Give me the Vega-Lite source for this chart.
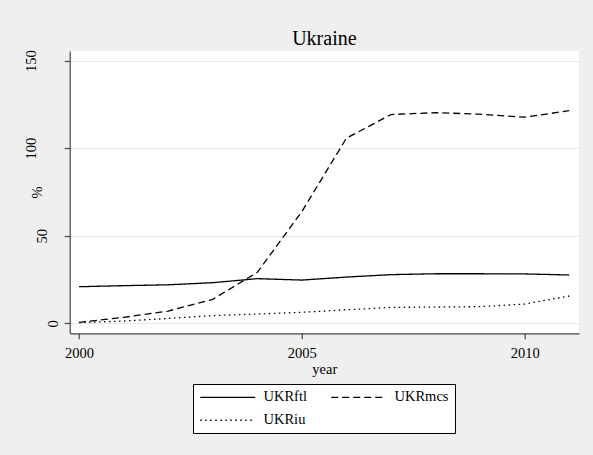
{
  "$schema": "https://vega.github.io/schema/vega-lite/v6.json",
  "width": 509.3,
  "height": 282.3,
  "autosize": {"type": "none"},
  "padding": {"left": 69.7, "top": 51, "right": 14, "bottom": 121.7},
  "background": "#efefef",
  "view": {"fill": "white", "stroke": null},
  "title": {
    "text": "Ukraine",
    "anchor": "middle",
    "frame": "group",
    "baseline": "alphabetic",
    "offset": 2,
    "dy": 17,
    "font": "Liberation Serif",
    "fontSize": 20,
    "fontWeight": "normal",
    "color": "black"
  },
  "config": {
    "font": "Liberation Serif",
    "axis": {
      "labelFont": "Liberation Serif",
      "titleFont": "Liberation Serif",
      "labelFontSize": 14.5,
      "titleFontSize": 14.5,
      "titleFontWeight": "normal",
      "labelColor": "black",
      "titleColor": "black",
      "domainColor": "#444444",
      "tickColor": "#444444",
      "domainWidth": 1.2,
      "tickWidth": 1.2,
      "tickSize": 5.5,
      "gridColor": "#e6e6e6",
      "gridWidth": 1.2
    },
    "legend": {
      "labelFont": "Liberation Serif",
      "labelFontSize": 14.5,
      "labelColor": "black"
    }
  },
  "data": {
    "values": [
      {"year": 2000, "series": "UKRftl", "value": 20.9},
      {"year": 2001, "series": "UKRftl", "value": 21.5},
      {"year": 2002, "series": "UKRftl", "value": 22.0},
      {"year": 2003, "series": "UKRftl", "value": 23.2},
      {"year": 2004, "series": "UKRftl", "value": 25.5},
      {"year": 2005, "series": "UKRftl", "value": 24.7},
      {"year": 2006, "series": "UKRftl", "value": 26.4},
      {"year": 2007, "series": "UKRftl", "value": 27.8},
      {"year": 2008, "series": "UKRftl", "value": 28.3},
      {"year": 2009, "series": "UKRftl", "value": 28.3},
      {"year": 2010, "series": "UKRftl", "value": 28.2},
      {"year": 2011, "series": "UKRftl", "value": 27.6},
      {"year": 2000, "series": "UKRmcs", "value": 0.5},
      {"year": 2001, "series": "UKRmcs", "value": 3.4},
      {"year": 2002, "series": "UKRmcs", "value": 7.0},
      {"year": 2003, "series": "UKRmcs", "value": 13.7},
      {"year": 2004, "series": "UKRmcs", "value": 29.1},
      {"year": 2005, "series": "UKRmcs", "value": 63.8},
      {"year": 2006, "series": "UKRmcs", "value": 105.7},
      {"year": 2007, "series": "UKRmcs", "value": 119.2},
      {"year": 2008, "series": "UKRmcs", "value": 120.3},
      {"year": 2009, "series": "UKRmcs", "value": 119.4},
      {"year": 2010, "series": "UKRmcs", "value": 117.7},
      {"year": 2011, "series": "UKRmcs", "value": 121.4},
      {"year": 2000, "series": "UKRiu", "value": 0.4},
      {"year": 2001, "series": "UKRiu", "value": 1.3},
      {"year": 2002, "series": "UKRiu", "value": 2.8},
      {"year": 2003, "series": "UKRiu", "value": 4.4},
      {"year": 2004, "series": "UKRiu", "value": 5.3},
      {"year": 2005, "series": "UKRiu", "value": 6.3},
      {"year": 2006, "series": "UKRiu", "value": 7.7},
      {"year": 2007, "series": "UKRiu", "value": 9.1},
      {"year": 2008, "series": "UKRiu", "value": 9.3},
      {"year": 2009, "series": "UKRiu", "value": 9.5},
      {"year": 2010, "series": "UKRiu", "value": 11.0},
      {"year": 2011, "series": "UKRiu", "value": 15.6}
    ]
  },
  "mark": {"type": "line", "color": "black", "strokeWidth": 1.3},
  "encoding": {
    "x": {
      "field": "year",
      "type": "quantitative",
      "scale": {"domain": [1999.79, 2011.22], "nice": false, "zero": false},
      "axis": {
        "title": "year",
        "values": [2000, 2005, 2010],
        "format": "d",
        "grid": false,
        "labelFlush": false,
        "labelBaseline": "alphabetic",
        "labelPadding": 18.5,
        "titleBaseline": "alphabetic",
        "titleY": 40.2,
        "titleX": 254.6,
        "titleAnchor": "middle"
      }
    },
    "y": {
      "field": "value",
      "type": "quantitative",
      "scale": {"domain": [-5.7, 155.5], "nice": false, "zero": false},
      "axis": {
        "title": "%",
        "values": [0, 50, 100, 150],
        "grid": true,
        "labelAngle": -90,
        "labelAlign": "center",
        "labelBaseline": "alphabetic",
        "labelFlush": false,
        "labelPadding": {
          "condition": [
            {"test": "datum.value == 0", "value": 6.5},
            {"test": "datum.value == 50", "value": 18}
          ],
          "value": 28.9
        },
        "titleAngle": -90,
        "titleBaseline": "alphabetic",
        "titleAlign": "center",
        "titleX": -28,
        "titleY": 141
      }
    },
    "strokeDash": {
      "field": "series",
      "type": "nominal",
      "scale": {
        "domain": ["UKRftl", "UKRmcs", "UKRiu"],
        "range": [[1, 0], [7, 4], [1.5, 3.5]]
      },
      "legend": {
        "title": null,
        "orient": "none",
        "legendX": 123.3,
        "legendY": 333,
        "direction": "horizontal",
        "columns": 2,
        "symbolType": "M-6,0H49",
        "symbolSize": 4,
        "symbolStrokeWidth": 1.3,
        "symbolStrokeColor": "black",
        "labelOffset": 50,
        "columnPadding": 21,
        "rowPadding": 8,
        "padding": 6,
        "fillColor": "white",
        "strokeColor": "black",
        "cornerRadius": 0
      }
    }
  }
}
